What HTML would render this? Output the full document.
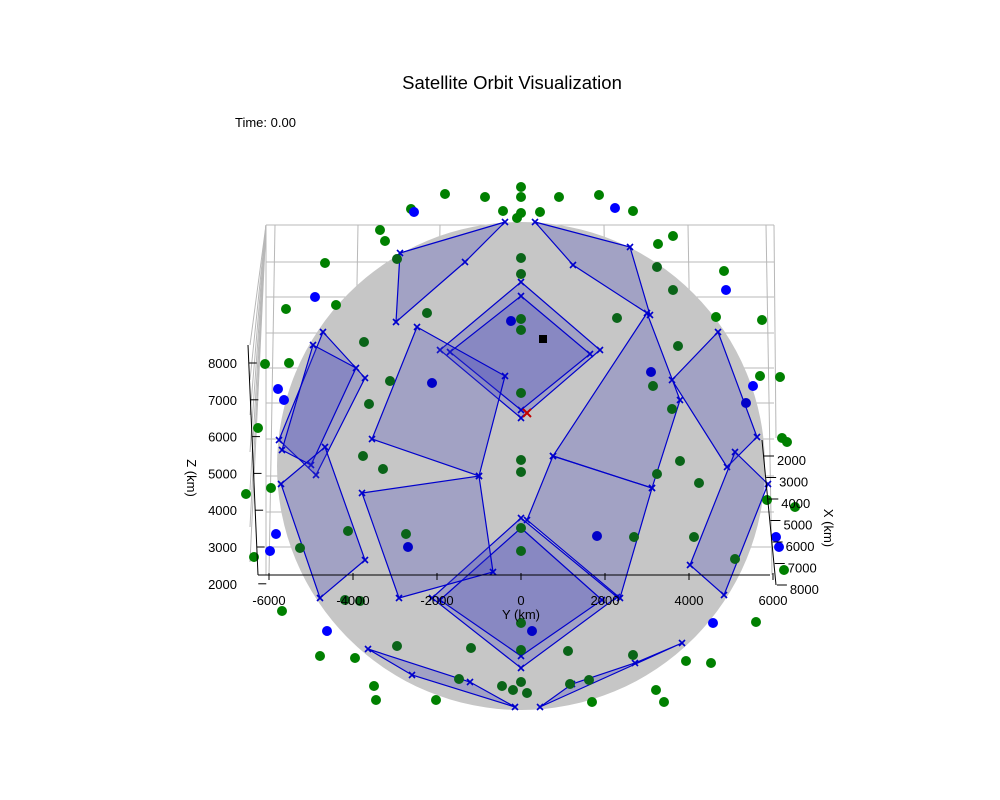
<!DOCTYPE html>
<html><head><meta charset="utf-8"><style>
body{margin:0;background:#fff}
svg{display:block;font-family:"Liberation Sans",sans-serif}
</style></head><body>
<svg id="chart" width="1000" height="800" viewBox="0 0 1000 800" xmlns="http://www.w3.org/2000/svg">
<rect width="1000" height="800" fill="#fff"/>
<text x="512" y="89" font-size="18.5" text-anchor="middle">Satellite Orbit Visualization</text>
<text x="235" y="127" font-size="13">Time: 0.00</text>
<g id="grid"></g>
<g id="sphere"></g>
<g id="polys"></g>
<g id="dots"></g>
<g id="ticks"></g>
<text x="521" y="619" font-size="13" text-anchor="middle">Y (km)</text>
<text x="0" y="0" font-size="13" text-anchor="middle" transform="translate(187,478) rotate(90)">Z (km)</text>
<text x="0" y="0" font-size="13" text-anchor="middle" transform="translate(824,528) rotate(90)">X (km)</text>
</svg>
<script>
const yTicks=[-6000,-4000,-2000,0,2000,4000,6000];
const zTicks=[8000,7000,6000,5000,4000,3000,2000];
const xTicks=[2000,3000,4000,5000,6000,7000,8000];
const greenY=[0,0,-1900,-900,950,1950,0,-100,475,-450,2800,-2750,-3525,-3400,3425,3800,-4900,-3100,3400,5075,3800,-5875,-4625,0,0,6025,4875,-3925,-2350,0,0,2400,3925,-6400,-5800,-3800,-3275,3300,6475,3775,5975,0,-6575,-3950,-3450,0,0,3400,3975,6525,6650,4450,-6875,-6250,6150,6850,-4325,-2875,0,0,2825,4325,-5525,-6675,5350,6575,-4400,-5975,-4025,5875,0,0,-3100,-1250,1175,2800,-5025,-4150,4125,4750,-1550,0,-475,-200,150,1225,1700,-3675,-3625,-2125,1775,3375,3575];
const greenZ=[6975,6725,6800,6725,6725,6775,6325,6200,6350,6375,6375,6425,5900,5625,5550,5750,5075,5175,4975,4875,4400,3925,4025,5200,4800,3650,3725,3100,3825,3675,3400,3700,3000,2550,2575,1550,2125,2000,2225,1425,2250,1825,950,250,-75,150,-150,-200,125,700,600,-425,-700,-550,-850,-1025,-1625,-1700,-1550,-2125,-1775,-1775,-2050,-2275,-2325,-2600,-3350,-3625,-3375,-3900,-3925,-4600,-4500,-4550,-4625,-4725,-4750,-4800,-4875,-4925,-5325,-5400,-5500,-5600,-5675,-5450,-5350,-5500,-5850,-5850,-5900,-5600,-5900];
const blueY=[-2675,2350,-5150,5125,-250,-6075,-5925,-2225,3250,5800,5625,-6125,-6275,-2825,1900,6375,6450,-4850,275,4800];
const blueZ=[6350,6450,4225,4400,3625,1925,1650,2075,2350,2000,1575,-1700,-2125,-2025,-1750,-1775,-2025,-4125,-4125,-3925];
const panelY=[[0,1975,0,-2025],[0,1725,0,-1775],[0,2400,0,-2225],[0,2025,0,-2025],[-2600,-400,-1050,-3725],[3150,800,3275,3975],[-3975,-1050,-700,-3050],[800,3275,2475,150],[-3025,-400,-1400,-3125],[350,2725,3225,1300],[-4950,-3900,-5125,-6050],[-5200,-4125,-5250,-5975],[-6000,-4900,-3900,-5025],[4925,5900,5150,3775],[5350,6175,5075,4225],[-3825,-2725,-150,-1275],[475,4025,2850,1275]];
const panelZ=[[4600,2900,1200,2900],[4250,2800,1400,2850],[-1300,-3275,-5050,-3300],[-1550,-3350,-4750,-3350],[3475,2250,-250,675],[3825,250,-550,1650],[-675,-250,-2650,-3300],[250,-550,-3300,-1350],[5325,6100,5100,3600],[6100,5475,3775,5025],[3350,2200,-225,650],[3025,2450,25,400],[-450,475,-2350,-3300],[3350,725,-25,2150],[350,-450,-3225,-2475],[-4575,-5225,-6025,-5400],[-6025,-4425,-4925,-5450]];
const earthRadius=6100;
const sx=v=>521+v*0.04, sy=v=>466-v*0.04;
const tyx=v=>521+v*0.042;
const tzy=v=>363+(8000-v)*0.0368;
const txy=v=>460+(v-2000)*0.0215;
const NS="http://www.w3.org/2000/svg";
function mk(parent,tag,attrs){const e=document.createElementNS(NS,tag);for(const k in attrs)e.setAttribute(k,attrs[k]);document.getElementById(parent).appendChild(e);return e;}
const g="#b8b8b8";
for(const y of [225,262,297,333,368,403,439,476,512,547]){const l=mk('grid','line',{x1:266,y1:y,x2:774,y2:y,stroke:g,'stroke-width':1});}
for(const x of [275,358,440,521,604,688,766]){const l=mk('grid','line',{x1:x,y1:225,x2:x+(x<521?-6:x>521?6:0),y2:575,stroke:g,'stroke-width':1});}
for(const y of [345,380,415,452,490,527,562]){const l=mk('grid','line',{x1:266,y1:225,x2:250,y2:y,stroke:g,'stroke-width':1});}
mk('grid','line',{x1:266,y1:225,x2:266,y2:575,stroke:g});
mk('grid','line',{x1:774,y1:225,x2:776,y2:438,stroke:g});
const sp=mk('sphere','circle',{cx:sx(0),cy:sy(0),r:earthRadius*0.04,fill:'#c6c6c6'});

panelY.forEach((py,i)=>{const pz=panelZ[i];
 const pts=py.map((v,j)=>sx(v)+','+sy(pz[j])).join(' ');
 const p=mk('polys','polygon',{points:pts,fill:'rgba(70,70,190,0.28)',stroke:'#0000cc','stroke-width':1.2});
 
 py.forEach((v,j)=>{const x=sx(v),y=sy(pz[j]);
  const m=mk('polys','path',{d:`M${x-3},${y-3}L${x+3},${y+3}M${x-3},${y+3}L${x+3},${y-3}`,stroke:'#0000cc','stroke-width':1.6});
  });
});
function inside(y,z){return Math.hypot(y,z)<earthRadius;}
greenY.forEach((v,i)=>{const z=greenZ[i];
 const c=mk('dots','circle',{cx:sx(v),cy:sy(z),r:5,fill:inside(v,z)?'#0a6418':'#008000'});
 });
blueY.forEach((v,i)=>{const z=blueZ[i];
 const c=mk('dots','circle',{cx:sx(v),cy:sy(z),r:5,fill:inside(v,z)?'#0000c8':'#0000ff'});
 });
const rx=sx(150),ry=sy(1325);
const rc=mk('dots','path',{d:`M${rx-4},${ry-4}L${rx+4},${ry+4}M${rx-4},${ry+4}L${rx+4},${ry-4}`,stroke:'#c00000','stroke-width':2});

const bs=mk('dots','rect',{x:sx(550)-4,y:sy(3175)-4,width:8,height:8,fill:'#000'});

mk('ticks','line',{x1:258,y1:575,x2:770,y2:575,stroke:'#000'});
mk('ticks','line',{x1:248,y1:345,x2:258,y2:575,stroke:'#000'});
mk('ticks','line',{x1:762,y1:440,x2:776,y2:585,stroke:'#000'});
yTicks.forEach(v=>{const x=tyx(v);mk('ticks','line',{x1:x,y1:573,x2:x,y2:580,stroke:'#000'});
 const t=mk('ticks','text',{x:x,y:605,'font-size':13,'text-anchor':'middle'});t.textContent=v;
 });
zTicks.forEach(v=>{const y=tzy(v);mk('ticks','line',{x1:248+(y-345)*0.043,y1:y,x2:256+(y-345)*0.043,y2:y,stroke:'#000'});
 const t=mk('ticks','text',{x:237,y:y+5,'font-size':13,'text-anchor':'end'});t.textContent=v;
 });
xTicks.forEach(v=>{const y=txy(v);const x0=762+(y-440)*0.1;
 mk('ticks','line',{x1:x0,y1:y-4,x2:x0+10,y2:y-4,stroke:'#000'});
 const t=mk('ticks','text',{x:x0+13,y:y+5,'font-size':13});t.textContent=v;
 });
</script>
</body></html>
